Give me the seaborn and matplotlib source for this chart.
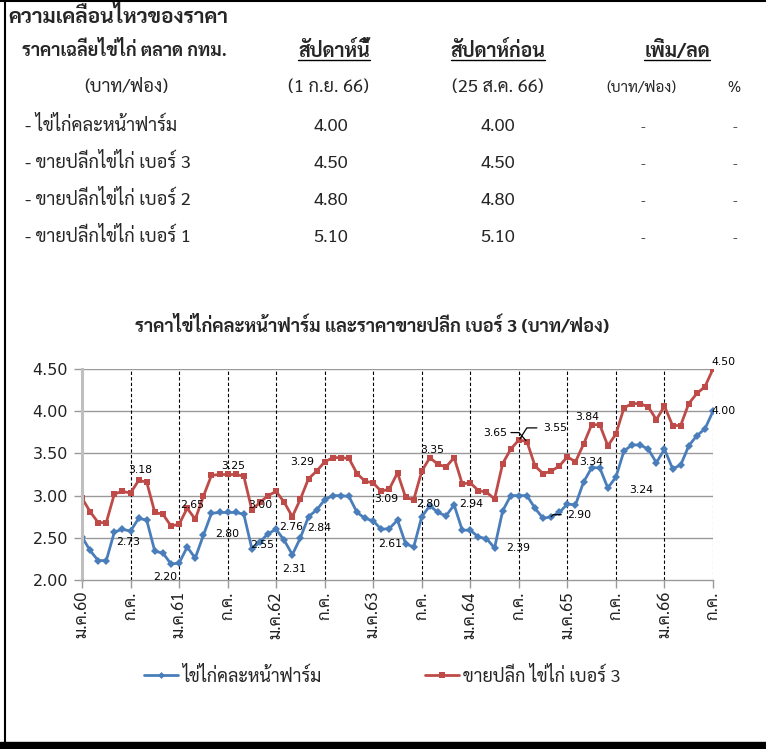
import numpy as np
import pandas as pd
import seaborn as sns
import matplotlib
matplotlib.use("Agg")
import matplotlib.pyplot as plt
from matplotlib import font_manager as fm
from matplotlib import patheffects as pe
from matplotlib.ft2font import FT2Font
from matplotlib.lines import Line2D
from matplotlib.patches import Rectangle
from matplotlib.transforms import IdentityTransform

# ---------------- data ----------------
farm_price = [2.51, 2.35, 2.23, 2.23, 2.57, 2.60, 2.58, 2.73, 2.71, 2.34, 2.32, 2.19, 2.20,
              2.39, 2.26, 2.53, 2.79, 2.80, 2.80, 2.80, 2.78, 2.37, 2.45, 2.55, 2.60, 2.47,
              2.30, 2.50, 2.75, 2.83, 2.95, 3.00, 3.00, 2.99, 2.80, 2.73, 2.70, 2.60, 2.61,
              2.71, 2.43, 2.39, 2.75, 2.88, 2.80, 2.76, 2.89, 2.59, 2.59, 2.51, 2.49, 2.38,
              2.82, 3.00, 3.00, 3.00, 2.85, 2.73, 2.75, 2.80, 2.90, 2.89, 3.16, 3.33, 3.33,
              3.09, 3.22, 3.53, 3.60, 3.60, 3.55, 3.39, 3.55, 3.32, 3.36, 3.59, 3.71, 3.79,
              4.00]
retail_no3 = [2.97, 2.81, 2.68, 2.68, 3.02, 3.05, 3.03, 3.18, 3.16, 2.80, 2.78, 2.64, 2.66,
              2.85, 2.72, 2.99, 3.24, 3.25, 3.25, 3.25, 3.23, 2.83, 2.92, 3.00, 3.05, 2.92,
              2.75, 2.96, 3.20, 3.29, 3.40, 3.45, 3.45, 3.44, 3.26, 3.17, 3.15, 3.05, 3.08,
              3.27, 2.98, 2.95, 3.29, 3.45, 3.37, 3.34, 3.45, 3.14, 3.15, 3.06, 3.04, 2.96,
              3.38, 3.55, 3.66, 3.64, 3.35, 3.26, 3.29, 3.35, 3.46, 3.40, 3.61, 3.84, 3.84,
              3.59, 3.73, 4.04, 4.09, 4.09, 4.05, 3.90, 4.06, 3.83, 3.83, 4.09, 4.21, 4.29,
              4.50]
series_names = ["ไข่ไก่คละหน้าฟาร์ม", "ขายปลีก ไข่ไก่ เบอร์ 3"]
x_tick_labels = ["ม.ค.60", "ก.ค.", "ม.ค.61", "ก.ค.", "ม.ค.62", "ก.ค.", "ม.ค.63", "ก.ค.",
                 "ม.ค.64", "ก.ค.", "ม.ค.65", "ก.ค.", "ม.ค.66", "ก.ค."]
y_ticks = [2.00, 2.50, 3.00, 3.50, 4.00, 4.50]

table_items = ["- ไข่ไก่คละหน้าฟาร์ม", "- ขายปลีกไข่ไก่ เบอร์ 3",
               "- ขายปลีกไข่ไก่ เบอร์ 2", "- ขายปลีกไข่ไก่ เบอร์ 1"]
this_week = [4.00, 4.50, 4.80, 5.10]
last_week = [4.00, 4.50, 4.80, 5.10]
change_baht = ["-", "-", "-", "-"]
change_pct = ["-", "-", "-", "-"]

# data labels shown on the chart: (series index, point index, text)
point_labels = [(0, 6, "2.73"), (0, 11, "2.20"), (0, 18, "2.80"), (0, 23, "2.55"),
                (0, 26, "2.31"), (0, 29, "2.84"), (0, 38, "2.61"), (0, 42, "2.80"),
                (0, 48, "2.94"), (0, 51, "2.39"), (0, 58, "2.90"), (0, 63, "3.34"),
                (0, 66, "3.24"), (0, 78, "4.00"),
                (1, 7, "3.18"), (1, 13, "2.65"), (1, 18, "3.25"), (1, 23, "3.00"),
                (1, 26, "2.76"), (1, 29, "3.29"), (1, 38, "3.09"), (1, 43, "3.35"),
                (1, 55, "3.65"), (1, 54, "3.55"), (1, 63, "3.84"), (1, 78, "4.50")]

# ---------------- style / layout ----------------
# pixel offsets (right, down) of each label from its point, and leader polylines
label_offsets = [(-2, 11), (-6, 13), (0, 22), (-6, 11), (2, 14), (3, 18), (1, 15), (6, -13),
                 (1, -26), (24, 0), (16, -2), (0, -6), (25, 13), (11, 0),
                 (2, -10), (5, -3), (6, -8), (-8, 9), (-1, 10), (-14, -9), (-3, 10), (2, -8),
                 (-20, -9), (24, -12), (-4, -8), (11, -7)]
leaders = {(0, 58): [(0, 0), (2, -2), (10, -2)],
           (1, 55): [(-1, -1), (-8, -9), (-16, -9)],
           (1, 54): [(1, -1), (8, -12), (18, -12)]}

sns.set_theme(style="white")


def find_thai_font():
    prefs = ["Tahoma", "Leelawadee UI", "Noto Sans Thai", "Noto Sans Thai UI", "Sarabun",
             "Loma", "Garuda", "Waree", "Sawasdee", "Umpush", "Kinnari", "Norasi",
             "Laksaman", "Tlwg Typo", "Noto Serif Thai"]
    weights = {}
    ok = {}
    for f in fm.fontManager.ttflist:
        if f.fname in ok:
            good = ok[f.fname]
        else:
            try:
                cm = FT2Font(f.fname).get_charmap()
                good = (0x0E01 in cm and 0x0E44 in cm and 0x0E48 in cm)
            except Exception:
                good = False
            ok[f.fname] = good
        if good:
            w = f.weight if isinstance(f.weight, int) else 400
            weights.setdefault(f.name, set()).add(w)
    if not weights:
        return None, False
    def has_bold(n):
        return any(w >= 600 for w in weights[n])
    ordered = [p for p in prefs if p in weights] + [n for n in weights if n not in prefs]
    for n in ordered:
        if has_bold(n):
            return n, True
    return ordered[0], False


thai, thai_bold = find_thai_font()
FAM = [thai, "DejaVu Sans"] if thai else ["DejaVu Sans"]
plt.rcParams["font.family"] = FAM
if thai_bold:
    BOLD = dict(fontweight="bold")
else:
    BOLD = dict(path_effects=[pe.withStroke(linewidth=0.9, foreground="black")])

W, H = 766, 749
fig = plt.figure(figsize=(W / 100, H / 100), dpi=100)
fig.patch.set_facecolor("white")


def fx(x):
    return x / W


def fy(y):
    return 1 - y / H


# borders
fig.add_artist(Line2D([0, 1], [fy(0.5), fy(0.5)], color="black", lw=1.5, transform=fig.transFigure))
fig.add_artist(Line2D([fx(5), fx(5)], [0, 1], color="black", lw=1.5, transform=fig.transFigure))
fig.add_artist(Rectangle((0, 0), 1, 7 / H, color="black", transform=fig.transFigure))

TS = 13.2
# table
fig.text(fx(8), fy(23), "ความเคลื่อนไหวของราคา", fontsize=15, va="baseline", family=FAM, **BOLD)
fig.text(fx(22), fy(56), "ราคาเฉลี่ยไข่ไก่ ตลาด กทม.", fontsize=13.0, va="baseline", family=FAM, **BOLD)
heads = []
for cx, t in [(334, "สัปดาห์นี้"), (498, "สัปดาห์ก่อน"), (677, "เพิ่ม/ลด")]:
    heads.append(fig.text(fx(cx), fy(57), t, fontsize=14, ha="center",
                          va="baseline", family=FAM, **BOLD))
fig.text(fx(126), fy(92), "(บาท/ฟอง)", fontsize=TS, ha="center", va="baseline", family=FAM)
fig.text(fx(328), fy(92), "(1 ก.ย. 66)", fontsize=TS, ha="center", va="baseline", family=FAM)
fig.text(fx(498), fy(92), "(25 ส.ค. 66)", fontsize=TS, ha="center", va="baseline", family=FAM)
fig.text(fx(641), fy(92), "(บาท/ฟอง)", fontsize=11, ha="center", va="baseline", family=FAM)
fig.text(fx(734), fy(92), "%", fontsize=10.5, ha="center", va="baseline", family=FAM)
for k, (name, a, b, c, d) in enumerate(zip(table_items, this_week, last_week, change_baht, change_pct)):
    yb = 131 + k * 37
    fig.text(fx(25), fy(yb), name, fontsize=TS, va="baseline", family=FAM)
    fig.text(fx(331), fy(yb), f"{a:.2f}", fontsize=TS, ha="center", va="baseline", family=FAM)
    fig.text(fx(498), fy(yb), f"{b:.2f}", fontsize=TS, ha="center", va="baseline", family=FAM)
    fig.text(fx(643), fy(yb), c, fontsize=10, ha="center", va="baseline", color="#444444", family=FAM)
    fig.text(fx(735), fy(yb), d, fontsize=10, ha="center", va="baseline", color="#444444", family=FAM)

# chart title
fig.text(fx(372), fy(332), "ราคาไข่ไก่คละหน้าฟาร์ม และราคาขายปลีก เบอร์ 3 (บาท/ฟอง)",
         fontsize=13.1, ha="center", va="baseline", family=FAM, **BOLD)

# chart
ax = fig.add_axes([fx(82), fy(580), (713 - 82) / W, (580 - 369) / H])
df = pd.DataFrame({
    "idx": list(range(len(farm_price))) * 2,
    "price": farm_price + retail_no3,
    "series": [series_names[0]] * len(farm_price) + [series_names[1]] * len(retail_no3),
})
blue, red = "#4A7EBB", "#BE4B48"
sns.lineplot(data=df, x="idx", y="price", hue="series", style="series",
             markers=["D", "s"], dashes=False, palette=[blue, red], ax=ax,
             legend=False, linewidth=2.0, markersize=4.2, markeredgewidth=0)

n = len(farm_price)
xt = list(range(0, n, 6))
ax.set_xlim(0, n - 1)
ax.set_ylim(min(y_ticks), max(y_ticks))
ax.set_yticks(y_ticks)
ax.set_yticklabels([f"{v:.2f}" for v in y_ticks], fontsize=11.5, color="#222222", family=["DejaVu Sans"])
ax.set_xticks(xt)
ax.set_xticklabels(x_tick_labels, rotation=90, fontsize=12, color="#222222", va="top", family=FAM)
ax.set_xlabel("")
ax.set_ylabel("")
grid_c = "#9A9A9A"
ax.grid(False)
for v in y_ticks[1:]:
    ax.axhline(v, color=grid_c, lw=1.0, zorder=0)
for xv in xt[1:]:
    ax.axvline(xv, color="black" if xv < n - 1 else "#808080", lw=0.8, ls=(0, (3, 2)), zorder=0.5)
for s in ["top", "right"]:
    ax.spines[s].set_visible(False)
ax.spines["left"].set_color("#BFBFBF")
ax.spines["left"].set_linewidth(2.2)
ax.spines["bottom"].set_color(grid_c)
ax.spines["bottom"].set_linewidth(1.0)
ax.tick_params(axis="y", length=6, width=1, color=grid_c, pad=4, left=True)
ax.tick_params(axis="x", length=6, width=1, color=grid_c, pad=2, bottom=True)
ax.set_facecolor("white")

series_vals = [farm_price, retail_no3]
for (si, i, txt), (dx, dy) in zip(point_labels, label_offsets):
    ha = "center"
    if (si, i) in leaders:
        ha = "right" if dx < 0 else "left"
    ax.annotate(txt, xy=(i, series_vals[si][i]), xytext=(dx * 0.72, -dy * 0.72),
                textcoords="offset points", ha=ha, va="center", fontsize=7.8,
                color="black", family=["DejaVu Sans"], annotation_clip=False)

for (si, i), pts in leaders.items():
    px, py = ax.transData.transform((i, series_vals[si][i]))
    xs = [px + a for a, b in pts]
    ys = [py - b for a, b in pts]
    fig.add_artist(Line2D(xs, ys, color="black", lw=0.9, transform=IdentityTransform()))

# legend
for name, col, mk, ms, lx in [(series_names[0], blue, "D", 3.5, 144), (series_names[1], red, "s", 4.2, 425)]:
    h = Line2D([0], [0], color=col, lw=2.0, marker=mk, markersize=ms, markeredgewidth=0)
    fig.legend(handles=[h], labels=[name], loc="center left", bbox_to_anchor=(fx(lx), fy(676)),
               frameon=False, borderpad=0, borderaxespad=0, handlelength=1.9, handletextpad=0.22,
               prop=fm.FontProperties(family=FAM, size=13))

# underline headers
fig.canvas.draw()
r = fig.canvas.get_renderer()
for t in heads:
    bb = t.get_window_extent(r)
    ybase = fig.transFigure.transform((0, fy(57)))[1] - 3
    fig.add_artist(Line2D([bb.x0, bb.x1], [ybase, ybase], color="black", lw=1.0, transform=IdentityTransform()))

fig.savefig("out.png", dpi=100)
